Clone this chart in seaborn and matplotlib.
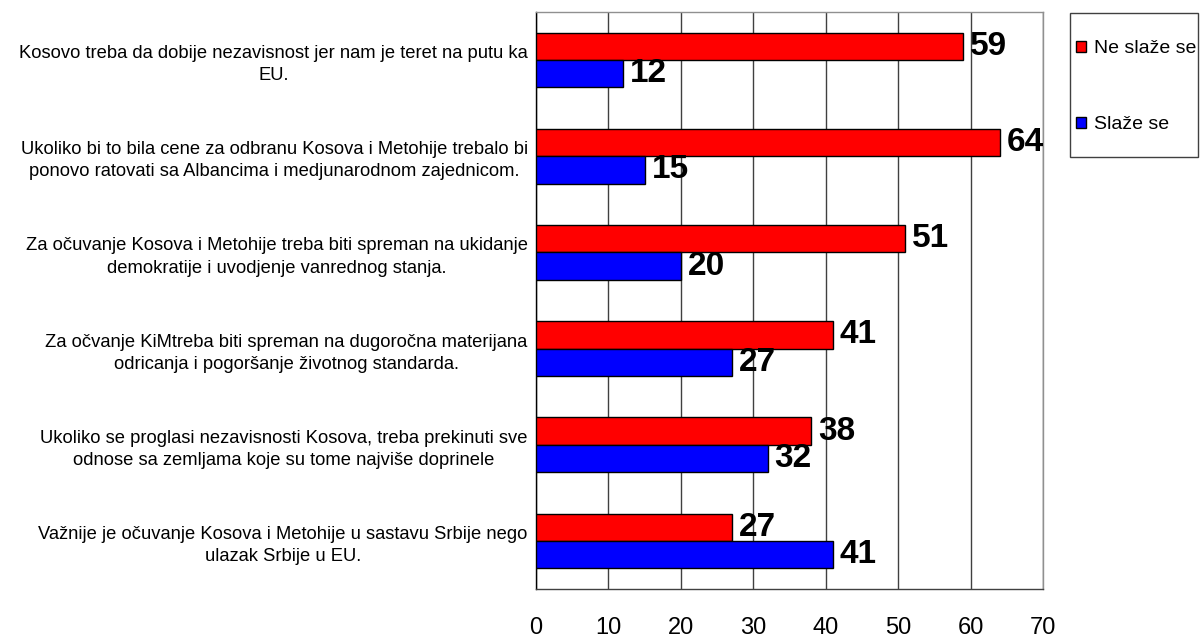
import matplotlib
matplotlib.use("Agg")
import matplotlib.pyplot as plt
import matplotlib.patches as mpatches
import seaborn as sns
import pandas as pd
import numpy as np

categories = [
    "Kosovo treba da dobije nezavisnost jer nam je teret na putu ka\nEU.",
    "Ukoliko bi to bila cene za odbranu Kosova i Metohije trebalo bi\nponovo ratovati sa Albancima i medjunarodnom zajednicom.",
    "Za očuvanje Kosova i Metohije treba biti spreman na ukidanje\ndemokratije i uvodjenje vanrednog stanja.",
    "Za očvanje KiMtreba biti spreman na dugoročna materijana\nodricanja i pogoršanje životnog standarda.",
    "Ukoliko se proglasi nezavisnosti Kosova, treba prekinuti sve\nodnose sa zemljama koje su tome najviše doprinele",
    "Važnije je očuvanje Kosova i Metohije u sastavu Srbije nego\nulazak Srbije u EU.",
]
series_names = ["Ne slaže se", "Slaže se"]
ne_slaze = [59, 64, 51, 41, 38, 27]
slaze = [12, 15, 20, 27, 32, 41]
x_ticks = [0, 10, 20, 30, 40, 50, 60, 70]

sns.set_theme(style="white")
plt.rcParams['font.family'] = ['Liberation Sans', 'DejaVu Sans']
plt.rcParams['text.color'] = 'black'
plt.rcParams['xtick.color'] = 'black'
plt.rcParams['ytick.color'] = 'black'
plt.rcParams['axes.labelcolor'] = 'black'

df = pd.DataFrame({
    "cat": categories * 2,
    "series": [series_names[0]] * 6 + [series_names[1]] * 6,
    "value": ne_slaze + slaze,
})

W, H = 1200, 642
fig = plt.figure(figsize=(12, 6.42), dpi=100)
L, R, T, B = 536, 1043, 12, 589
ax = fig.add_axes([L / W, 1 - B / H, (R - L) / W, (B - T) / H])

sns.barplot(data=df, y="cat", x="value", hue="series", order=categories,
            hue_order=series_names, palette=["#FF0000", "#0000FF"],
            orient="h", width=0.57, edgecolor="black", linewidth=1,
            saturation=1, ax=ax, legend=True, zorder=3)

ax.set_xlim(0, 70)
ax.set_ylim(5.5, -0.5)
ax.set_xticks(x_ticks)
ax.set_xticklabels([str(t) for t in x_ticks], fontsize=17, color="black")
ax.tick_params(axis="x", length=6, width=1, color="black", pad=14, direction="out")
ax.xaxis.grid(True, color="#404040", linewidth=1)
ax.set_axisbelow(True)

# y ticks: major at boundaries, labels at centers
ax.set_yticks(np.arange(-0.5, 6.0, 1.0))
ax.set_yticklabels([])
ax.tick_params(axis="y", which="major", length=6, width=1, color="black", direction="out")
ax.set_yticks(np.arange(6), minor=True)
ax.set_yticklabels(categories, minor=True, fontsize=13.2, multialignment="center",
                   linespacing=1.4, color="black")
ax.tick_params(axis="y", which="minor", length=0, pad=6)

ax.set_xlabel("")
ax.set_ylabel("")
ax.spines["top"].set_color("#909090")
ax.spines["right"].set_color("#909090")
ax.spines["left"].set_color("black")
ax.spines["bottom"].set_color("#404040")
for s in ax.spines.values():
    s.set_linewidth(1)

for cont in ax.containers:
    ax.bar_label(cont, fmt="%d", padding=5, fontsize=24, fontweight="bold",
                 color="black", zorder=5)

# legend: frame box drawn separately
handles, labels = ax.get_legend_handles_labels()
ax.get_legend().remove()
box = mpatches.Rectangle((1070 / W, 1 - 157 / H), (1198 - 1070) / W, (157 - 13) / H,
                         transform=fig.transFigure, facecolor="white",
                         edgecolor="#404040", linewidth=1)
fig.patches.append(box)
leg = fig.legend(handles, labels, loc="upper left",
                 bbox_to_anchor=(1076 / W, 1 - 40 / H),
                 frameon=False, fontsize=14, handlelength=0.5, handleheight=0.5,
                 handletextpad=0.4, labelspacing=3.05, borderpad=0, borderaxespad=0,
                 labelcolor="black")
for h in leg.legend_handles:
    h.set_edgecolor("black")
    h.set_linewidth(1)

fig.savefig("out.png", dpi=100)
